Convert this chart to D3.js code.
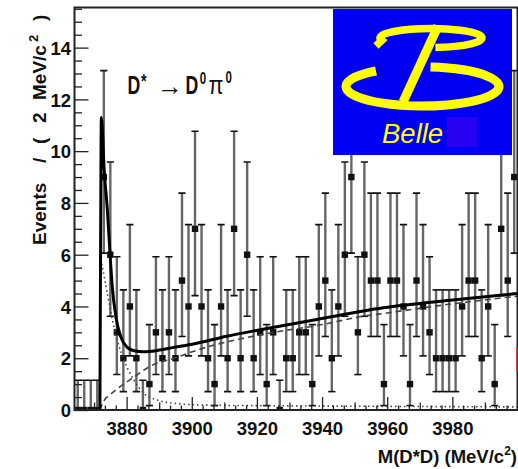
<!DOCTYPE html>
<html><head><meta charset="utf-8">
<script src="https://cdn.jsdelivr.net/npm/d3@7/dist/d3.min.js"></script>
<style>
html,body{margin:0;padding:0;background:#fff;}
svg{display:block;}
text{font-family:"Liberation Sans",Arial,Helvetica,sans-serif;}
</style></head><body>
<svg id="chart" width="518" height="469"></svg>
<script>
// ---- data ----
const massBins = [3865,3867,3869,3871,3873,3875,3877,3879,3881,3883,
                  3885,3887,3889,3891,3893,3895,3897,3899,3901,3903,
                  3905,3907,3909,3911,3913,3915,3917,3919,3921,3923,
                  3925,3927,3929,3931,3933,3935,3937,3939,3941,3943,
                  3945,3947,3949,3951,3953,3955,3957,3959,3961,3963,
                  3965,3967,3969,3971,3973,3975,3977,3979,3981,3983,
                  3985,3987,3989,3991,3993,3995,3997,3999];
const counts = [0,0,0,0,9,6,3,2,4,2,
                0,1,3,2,3,2,5,4,7,4,
                2,1,4,2,7,2,6,2,3,1,
                3,0,2,2,3,3,1,4,5,2,
                4,6,9,3,6,5,5,1,5,5,
                4,1,5,4,3,2,2,2,2,4,
                5,5,2,4,1,7,5,9];
const errLow = [0,0,0,0,2.94,2.38,1.63,1.29,1.91,1.29,
                0,0.83,1.63,1.29,1.63,1.29,2.16,1.91,2.58,1.91,
                1.29,0.83,1.91,1.29,2.58,1.29,2.38,1.29,1.63,0.83,
                1.63,0,1.29,1.29,1.63,1.63,0.83,1.91,2.16,1.29,
                1.91,2.38,2.94,1.63,2.38,2.16,2.16,0.83,2.16,2.16,
                1.91,0.83,2.16,1.91,1.63,1.29,1.29,1.29,1.29,1.91,
                2.16,2.16,1.29,1.91,0.83,2.58,2.16,2.94];
const errHigh = [1.15,1.15,1.15,1.15,4.11,3.58,2.92,2.64,3.16,2.64,
                 1.15,2.30,2.92,2.64,2.92,2.64,3.38,3.16,3.77,3.16,
                 2.64,2.30,3.16,2.64,3.77,2.64,3.58,2.64,2.92,2.30,
                 2.92,1.15,2.64,2.64,2.92,2.92,2.30,3.16,3.38,2.64,
                 3.16,3.58,4.11,2.92,3.58,3.38,3.38,2.30,3.38,3.38,
                 3.16,2.30,3.38,3.16,2.92,2.64,2.64,2.64,2.64,3.16,
                 3.38,3.38,2.64,3.16,2.30,3.77,3.38,4.11];

// fit curves
const totalMass = [3871.8,3872.0,3872.25,3873.1,3874.1,3874.9,3875.6,3876.7,3878.2,3880.2,3882.3,3885.3,3889.4,3894.5,3900.5,3910.7,3921,3938.4,3958.8,3979.3,4000];
const totalFit  = [0,6,11.3,9.3,7.7,6.05,4.76,3.6,2.83,2.42,2.29,2.25,2.3,2.42,2.55,2.85,3.1,3.5,3.95,4.24,4.5];
const bkgMass = [3871.8,3873,3875,3878,3882,3887.4,3894.5,3903.8,3923,3940,3951.6,3960,3980,4000];
const bkgFit  = [0,0.35,0.6,0.9,1.25,1.7,2.0,2.4,2.95,3.3,3.6,3.75,4.1,4.4];
const compMass = [3871.8,3871.85,3874.1,3876.1,3879.2,3882.3,3885.3,3889.4,3894.5,3903.8,3930,3960,4000];
const compFit  = [0,6.0,4.5,3.2,1.93,1.15,0.64,0.39,0.26,0.19,0.16,0.14,0.12];
const thresholdMass = 3871.8;

const xTickValues = [3880,3900,3920,3940,3960,3980,4000];
const xTickLabels = ["3880","3900","3920","3940","3960","3980",""];
const yTickValues = [0,2,4,6,8,10,12,14];
const yTickLabels = ["0","2","4","6","8","10","12","14"];

// ---- scales ----
const x = d3.scaleLinear().domain([3864,4000]).range([74.5,517.5]);
const y = d3.scaleLinear().domain([0,15.55]).range([410,7.5]);
const svg = d3.select("#chart");

svg.append("clipPath").attr("id","plotclip").append("rect")
  .attr("x",74.5).attr("y",7.5).attr("width",443).attr("height",402.5);
const plot = svg.append("g").attr("clip-path","url(#plotclip)");

const data = massBins.map((m,i)=>({m, n:counts[i], lo:errLow[i], hi:errHigh[i]}));

// error bars
plot.selectAll("line.eb").data(data).enter().append("line").attr("class","eb")
  .attr("x1",d=>x(d.m)).attr("x2",d=>x(d.m))
  .attr("y1",d=>y(d.n-d.lo)).attr("y2",d=>y(d.n+d.hi))
  .attr("stroke","#666").attr("stroke-width",2.4);
plot.selectAll("line.capT").data(data).enter().append("line").attr("class","capT")
  .attr("x1",d=>x(d.m)-3.6).attr("x2",d=>x(d.m)+3.6)
  .attr("y1",d=>y(d.n+d.hi)).attr("y2",d=>y(d.n+d.hi))
  .attr("stroke","#111").attr("stroke-width",1.6);
plot.selectAll("line.capB").data(data).enter().append("line").attr("class","capB")
  .attr("x1",d=>x(d.m)-3.6).attr("x2",d=>x(d.m)+3.6)
  .attr("y1",d=>y(d.n-d.lo)).attr("y2",d=>y(d.n-d.lo))
  .attr("stroke","#111").attr("stroke-width",1.6);
plot.selectAll("rect.pt").data(data).enter().append("rect").attr("class","pt")
  .attr("x",d=>x(d.m)-3.2).attr("y",d=>y(d.n)-3.2)
  .attr("width",6.4).attr("height",6.4).attr("fill","#111");

// curves
const line = d3.line().x(d=>x(d[0])).y(d=>y(d[1])).curve(d3.curveMonotoneX);
plot.append("line")
  .attr("x1",x(thresholdMass)).attr("x2",x(thresholdMass))
  .attr("y1",y(0)).attr("y2",y(compFit[1]))
  .attr("stroke","#333").attr("stroke-width",1.2);
plot.append("path").datum(compMass.map((m,i)=>[m,compFit[i]]).slice(1))
  .attr("d",line).attr("fill","none").attr("stroke","#444")
  .attr("stroke-width",1.6).attr("stroke-dasharray","1.5,3");
plot.append("path").datum(bkgMass.map((m,i)=>[m,bkgFit[i]]))
  .attr("d",line).attr("fill","none").attr("stroke","#444")
  .attr("stroke-width",1.6).attr("stroke-dasharray","6,4");
plot.append("path").datum(totalMass.map((m,i)=>[m,totalFit[i]]))
  .attr("d",line).attr("fill","none").attr("stroke","#000")
  .attr("stroke-width",3);

// ---- axes ----
const yAxis = d3.axisLeft(y).tickValues(yTickValues)
  .tickFormat((d,i)=>yTickLabels[i]).tickSize(-14).tickPadding(3.5);
const gy = svg.append("g").attr("transform","translate(74.5,0)").call(yAxis);
const yAxisMinor = d3.axisLeft(y).tickValues(d3.range(0,15.51,0.5).filter(v=>v%2!==0))
  .tickFormat("").tickSize(-7.5);
const gym = svg.append("g").attr("transform","translate(74.5,0)").call(yAxisMinor);

const xAxis = d3.axisBottom(x).tickValues(xTickValues)
  .tickFormat((d,i)=>xTickLabels[i]).tickSize(-13).tickPadding(0);
const gx = svg.append("g").attr("transform","translate(0,410)").call(xAxis);
// secondary ticks every 10 MeV, tertiary every 10/3 MeV
const xSec = d3.range(3870,4000.1,20);
const xTer = d3.range(0,41).map(i=>3870+i*10/3).filter(v=>Math.abs(((v-3870)/10)-Math.round((v-3870)/10))>0.01);
const gxs = svg.append("g").attr("transform","translate(0,410)")
  .call(d3.axisBottom(x).tickValues(xSec).tickFormat("").tickSize(-7.5));
const gxt = svg.append("g").attr("transform","translate(0,410)")
  .call(d3.axisBottom(x).tickValues(xTer.filter(v=>v>3864&&v<4000)).tickFormat("").tickSize(-4.5));

[gy,gym,gx,gxs,gxt].forEach(g=>{
  g.select(".domain").remove();
  g.selectAll(".tick line").attr("stroke","#222").attr("stroke-width",1.3);
});
gy.selectAll(".tick text").attr("font-size",18.5).attr("font-weight","bold")
  .attr("fill","#111").attr("dy","0.36em").attr("font-family","Liberation Sans, Arial, sans-serif");
gx.selectAll(".tick text").attr("font-size",18.5).attr("font-weight","bold")
  .attr("fill","#111").attr("y",25).attr("dy",0).attr("font-family","Liberation Sans, Arial, sans-serif");

// frame
svg.append("rect").attr("x",74.5).attr("y",7.5).attr("width",443).attr("height",402.5)
  .attr("fill","none").attr("stroke","#222").attr("stroke-width",2);

// axis titles
const yt = svg.append("text").attr("transform","translate(45.5,245) rotate(-90)")
  .attr("font-size",19).attr("font-weight","bold").attr("fill","#111");
yt.append("tspan").attr("x",0).text("Events");
yt.append("tspan").attr("x",82).text("/");
yt.append("tspan").attr("x",101).text("(");
yt.append("tspan").attr("x",122).text("2");
yt.append("tspan").attr("x",145).text("MeV/c");
yt.append("tspan").attr("x",203).attr("dy",-8).attr("font-size",13).text("2");
yt.append("tspan").attr("x",224).attr("dy",8).text(")");

const xt = svg.append("text").attr("x",517).attr("y",463).attr("text-anchor","end")
  .attr("font-size",18.5).attr("font-weight","bold").attr("fill","#111");
xt.append("tspan").text("M(D*D) (MeV/c");
xt.append("tspan").attr("dy",-8).attr("font-size",12).text("2");
xt.append("tspan").attr("dy",8).text(")");

// decay annotation (narrow Helvetica look: horizontally condensed)
const sx = 0.68;
const annL = svg.append("text").attr("transform",`translate(127.5,94) scale(${sx},1)`)
  .attr("font-size",26).attr("font-weight","bold").attr("fill","#111");
annL.append("tspan").attr("x",0).attr("y",0).text("D");
annL.append("tspan").attr("x",13.6/sx).attr("y",-6).attr("font-size",21).text("*");
const annR = svg.append("text").attr("transform",`translate(185.5,94) scale(${sx},1)`)
  .attr("font-size",26).attr("font-weight","bold").attr("fill","#111");
annR.append("tspan").attr("x",0).attr("y",0).text("D");
annR.append("tspan").attr("x",14.3/sx).attr("y",-10.5).attr("font-size",17).text("0");
annR.append("tspan").attr("x",40/sx).attr("y",-11).attr("font-size",17).text("0");
svg.append("text").attr("x",208.5).attr("y",94).attr("font-size",25)
  .attr("fill","#111").attr("textLength",15).attr("lengthAdjust","spacingAndGlyphs")
  .text("\u03c0");
svg.append("text").attr("x",157).attr("y",94.5).attr("font-size",26)
  .attr("font-family","DejaVu Sans, sans-serif").attr("fill","#111")
  .attr("textLength",26).attr("lengthAdjust","spacingAndGlyphs").text("\u2192");

// red artifact at right edge
svg.append("rect").attr("x",516.5).attr("y",347).attr("width",1.5).attr("height",25).attr("fill","#e00");

// ---- Belle logo ----
const logo = svg.append("g");
logo.append("rect").attr("x",333).attr("y",9).attr("width",179).attr("height",146).attr("fill","#0000f5");
logo.append("rect").attr("x",447).attr("y",117).attr("width",30).attr("height",30).attr("fill","#2a00f0");
function ept(cx,cy,rx,ry,deg){const a=deg*Math.PI/180;return [cx+rx*Math.cos(a),cy+ry*Math.sin(a)];}
{
  const s=ept(431,38,51,9.5,165), e=ept(431,38,51,9.5,85);
  logo.append("path").attr("d",`M376,46 L${s[0]},${s[1]} A51,9.5 0 1 1 ${e[0]},${e[1]}`)
    .attr("fill","none").attr("stroke","#ffff00").attr("stroke-width",7.5);
  const s2=ept(422.5,86.5,76.5,19.5,226), e2=ept(422.5,86.5,76.5,19.5,276);
  logo.append("path").attr("d",`M376,71 L${s2[0]},${s2[1]} A76.5,19.5 0 1 0 ${e2[0]},${e2[1]}`)
    .attr("fill","none").attr("stroke","#ffff00").attr("stroke-width",9);
  logo.append("line").attr("x1",438).attr("y1",26).attr("x2",403).attr("y2",102)
    .attr("stroke","#ffff00").attr("stroke-width",9);
}
logo.append("text").attr("x",382).attr("y",143).attr("font-size",27.5)
  .attr("font-style","italic").attr("fill","#ffff00").text("Belle");
</script>
</body></html>
